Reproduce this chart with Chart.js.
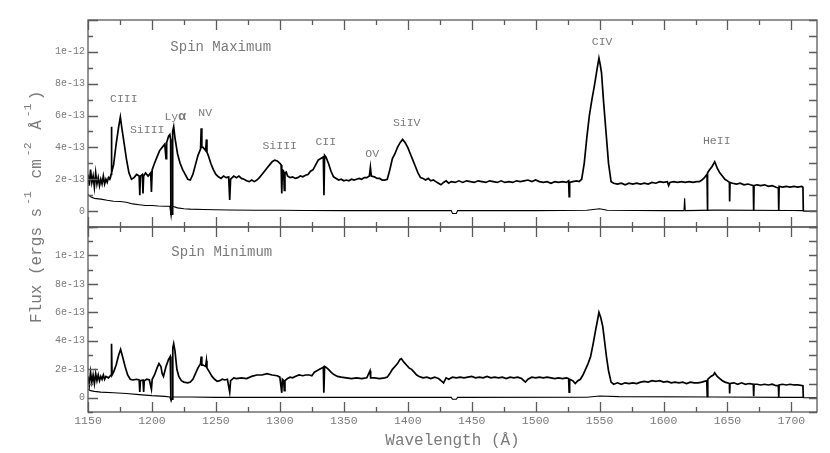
<!DOCTYPE html>
<html>
<head>
<meta charset="utf-8">
<script src="https://cdn.jsdelivr.net/npm/chart.js@4.4.1/dist/chart.umd.min.js"></script>
<style>
  body { margin: 0; background: #fff; }
  #wrap { position: relative; width: 830px; height: 453px; overflow: hidden; }
  #wrap canvas { position: absolute; left: 0; top: 0; }
</style>
</head>
<body>
<div id="wrap">
  <canvas id="spinMax" width="830" height="453"></canvas>
  <canvas id="spinMin" width="830" height="453"></canvas>
</div>
<script>
// Flux in units of 1e-13 ergs s^-1 cm^-2 A^-1: [wavelength, flux]
const spinMaxFlux = [
  [1150,2.3],[1151,1.6],[1152,2.6],[1153,1.8],[1154,2.2],[1155,1.5],[1156,2.4],[1157,1.7],
  [1158,2.1],[1159,1.6],[1160,2.0],[1161,1.7],[1162,2.2],[1163,1.7],[1164,2.0],[1165,1.8],
  [1166,2.1],[1167,2.0],[1168,2.3],[1168.3,5.3],[1168.6,2.4],[1170,2.9],[1172,4.2],[1174,5.3],
  [1175.3,5.9],[1176.5,5.2],[1178,4.4],[1180,3.3],[1182,2.4],[1184,2.0],[1186,2.1],[1188,2.3],
  [1190,2.2],[1190.5,1.0],[1191,2.2],[1192.5,2.3],[1193,1.1],[1193.5,2.2],[1195,2.4],[1197,2.2],
  [1199,2.4],[1199.6,1.2],[1200.2,2.6],[1202,3.0],[1204,3.4],[1206,3.8],[1208,4.0],[1210,4.2],
  [1211,3.3],[1211.5,4.3],[1213,4.7],[1214,4.8],[1214.6,4.5],[1214.8,-0.2],[1215.8,-0.2],[1216.2,5.0],
  [1217,5.3],[1218,4.6],[1220,3.6],[1222,3.0],[1224,2.6],[1226,2.3],[1228,2.0],[1230,1.95],
  [1232,2.3],[1234,2.9],[1236,3.5],[1238,3.9],[1238.5,5.2],[1239,4.0],[1240,4.0],[1242,3.8],
  [1242.6,4.5],[1243,3.7],[1244,3.5],[1246,3.0],[1248,2.6],[1250,2.3],[1252,2.15],[1254,2.05],
  [1256,2.2],[1258,2.1],[1260,2.15],[1260.8,0.7],[1261.5,2.0],[1264,2.2],[1266,2.1],[1268,2.2],
  [1270,2.05],[1272,2.0],[1274,1.9],[1276,1.85],[1278,1.95],[1280,1.85],[1282,1.95],[1284,2.1],
  [1286,2.3],[1288,2.5],[1290,2.7],[1292,2.9],[1294,3.1],[1296,3.2],[1298,3.15],[1300,3.0],
  [1301,2.9],[1301.5,1.1],[1302,2.6],[1303,2.5],[1303.5,1.3],[1304,2.4],[1305,2.45],[1306,2.2],
  [1308,2.1],[1310,2.15],[1312,2.05],[1314,2.1],[1316,2.2],[1318,2.15],[1320,2.25],[1322,2.3],
  [1324,2.5],[1326,2.6],[1328,2.9],[1330,3.2],[1332,3.3],[1334,3.4],[1334.5,1.0],[1335,3.5],
  [1336,3.4],[1338,3.0],[1340,2.5],[1342,2.15],[1344,2.05],[1346,1.95],[1348,2.0],[1350,1.9],
  [1352,1.95],[1354,1.9],[1356,2.0],[1358,1.95],[1360,2.0],[1362,2.05],[1364,2.0],[1366,2.1],
  [1368,2.1],[1370,2.2],[1370.8,2.75],[1371.5,2.2],[1374,2.15],[1376,2.05],[1378,2.05],[1380,1.95],
  [1382,1.95],[1384,2.0],[1386,2.6],[1388,3.3],[1390,3.6],[1392,4.0],[1394,4.3],[1396,4.5],
  [1398,4.3],[1400,4.0],[1402,3.6],[1404,3.2],[1406,2.8],[1408,2.4],[1410,2.1],[1412,2.05],
  [1414,1.95],[1416,2.05],[1418,1.9],[1420,1.95],[1422,1.85],[1424,1.75],[1426,1.65],[1428,1.8],
  [1430,1.9],[1432,1.75],[1434,1.85],[1437,1.8],[1440,1.9],[1443,1.8],[1446,1.9],[1449,1.85],
  [1452,1.8],[1455,1.9],[1458,1.85],[1461,1.8],[1464,1.9],[1467,1.85],[1470,1.8],[1473,1.9],
  [1476,1.8],[1479,1.85],[1482,1.8],[1485,1.9],[1488,1.85],[1491,1.9],[1494,1.95],[1497,1.85],
  [1500,1.95],[1503,1.85],[1506,1.8],[1509,1.85],[1512,1.75],[1515,1.85],[1518,1.8],[1521,1.85],
  [1524,1.8],[1525.8,1.9],[1526.2,0.9],[1526.6,1.8],[1529,1.85],[1532,1.9],[1534,1.85],[1536,2.0],
  [1538,3.0],[1540,4.6],[1542,6.0],[1544,7.0],[1546,7.9],[1548,8.9],[1549.5,9.6],[1550.5,9.2],
  [1551.5,8.7],[1553,7.0],[1555,5.0],[1557,3.0],[1559,1.85],[1561,1.75],[1564,1.7],[1567,1.75],
  [1570,1.65],[1573,1.75],[1576,1.7],[1579,1.75],[1582,1.7],[1585,1.75],[1588,1.7],[1591,1.8],
  [1594,1.75],[1597,1.85],[1600,1.8],[1603,1.85],[1604,1.6],[1605,1.8],[1608,1.85],[1611,1.8],
  [1614,1.85],[1617,1.8],[1620,1.85],[1623,1.8],[1626,1.85],[1628,1.85],[1630,1.95],[1632,2.1],
  [1634,2.3],[1634.3,0.0],[1634.6,2.4],[1636,2.6],[1638,2.8],[1640,3.1],[1642,2.7],[1644,2.4],
  [1646,2.2],[1648,2.0],[1650,1.9],[1651.5,1.8],[1651.7,0.6],[1652,1.8],[1654,1.75],[1657,1.7],
  [1660,1.75],[1663,1.65],[1666,1.7],[1668,1.65],[1670.2,1.6],[1670.5,0.0],[1670.8,1.6],[1673,1.65],
  [1676,1.6],[1679,1.65],[1682,1.55],[1685,1.6],[1688,1.5],[1689.8,1.45],[1690.1,0.0],[1690.4,1.55],
  [1693,1.5],[1696,1.55],[1699,1.5],[1702,1.55],[1705,1.5],[1708,1.55],[1709,1.5],[1709.3,0.0]
];

const spinMaxError = [
  [1150,1.05],[1152,0.9],[1155,0.8],[1160,0.75],[1165,0.68],[1170,0.62],[1175,0.6],[1180,0.55],
  [1185,0.45],[1190,0.4],[1195,0.35],[1200,0.35],[1205,0.32],[1210,0.3],[1214,0.3],[1215,-0.35],
  [1216,0.3],[1220,0.2],[1225,0.15],[1230,0.12],[1240,0.1],[1250,0.08],[1260,0.07],[1280,0.05],
  [1300,0.05],[1320,0.04],[1350,0.03],[1400,0.03],[1434,0.03],[1435,-0.15],[1438,-0.15],[1439,0.03],
  [1500,0.03],[1540,0.05],[1550,0.15],[1556,0.05],[1600,0.03],[1616,0.03],[1616.5,0.8],[1617,0.03],
  [1640,0.06],[1700,0.04],[1709,0.03],[1709.5,0.0],[1720,0.0]
];

const spinMinFlux = [
  [1150,1.5],[1151,0.9],[1152,1.8],[1153,1.1],[1154,1.6],[1155,1.0],[1156,1.7],[1157,1.2],
  [1158,1.6],[1159,1.2],[1160,1.5],[1161,1.3],[1162,1.6],[1163,1.3],[1164,1.5],[1166,1.4],
  [1168,1.6],[1168.4,3.8],[1168.8,1.6],[1170,1.8],[1172,2.3],[1174,3.0],[1175.5,3.4],[1177,2.9],
  [1179,2.2],[1181,1.6],[1183,1.3],[1185,1.25],[1188,1.3],[1190,1.25],[1190.5,0.4],[1191,1.2],
  [1193,1.25],[1193.5,0.4],[1194,1.2],[1196,1.3],[1198,1.25],[1199.6,0.6],[1200.2,1.3],[1202,1.6],
  [1204,2.1],[1205.5,2.4],[1207,2.2],[1208,1.7],[1209,1.5],[1211,2.2],[1213,2.7],[1214.3,2.9],
  [1214.8,-0.1],[1215.8,-0.1],[1216.3,3.5],[1217,3.8],[1218,3.3],[1219.5,2.0],[1221,1.5],[1223,1.2],
  [1225,1.1],[1228,1.05],[1230,1.1],[1232,1.3],[1234,1.7],[1236,2.1],[1238,2.4],[1238.5,2.9],
  [1239,2.3],[1240,2.3],[1242,2.2],[1242.6,2.6],[1243,2.1],[1245,1.8],[1247,1.5],[1249,1.3],
  [1251,1.15],[1253,1.2],[1255,1.3],[1257,1.25],[1259,1.3],[1260.8,0.4],[1261.5,1.2],[1264,1.4],
  [1266,1.35],[1270,1.4],[1274,1.35],[1278,1.5],[1282,1.6],[1286,1.6],[1290,1.7],[1294,1.6],
  [1298,1.55],[1300,1.45],[1301.5,0.35],[1302,1.3],[1303,1.2],[1303.5,0.5],[1304,1.2],[1306,1.35],
  [1308,1.45],[1310,1.4],[1312,1.5],[1315,1.6],[1318,1.55],[1320,1.6],[1323,1.6],[1325,1.55],
  [1327,1.8],[1329,1.9],[1331,2.0],[1333,2.1],[1334,2.15],[1334.4,0.35],[1335,2.2],[1336,2.15],
  [1338,2.0],[1340,1.8],[1342,1.65],[1345,1.5],[1348,1.45],[1352,1.4],[1356,1.35],[1360,1.4],
  [1364,1.35],[1368,1.4],[1370.5,1.9],[1371,1.4],[1374,1.4],[1378,1.35],[1382,1.4],[1384,1.45],
  [1386,1.7],[1388,2.0],[1390,2.2],[1392,2.4],[1394,2.7],[1395,2.75],[1397,2.5],[1399,2.3],
  [1401,2.1],[1403,2.0],[1405,1.8],[1407,1.6],[1409,1.5],[1412,1.4],[1415,1.45],[1418,1.35],
  [1421,1.45],[1424,1.35],[1426,1.2],[1428,1.05],[1430,1.4],[1432,1.3],[1435,1.45],[1438,1.4],
  [1441,1.45],[1444,1.4],[1447,1.45],[1450,1.5],[1453,1.4],[1456,1.45],[1459,1.4],[1462,1.5],
  [1465,1.4],[1468,1.45],[1471,1.4],[1474,1.45],[1477,1.35],[1480,1.45],[1483,1.4],[1486,1.45],
  [1489,1.35],[1492,1.1],[1494,1.3],[1497,1.45],[1500,1.4],[1503,1.45],[1506,1.4],[1509,1.45],
  [1512,1.4],[1515,1.35],[1518,1.4],[1521,1.35],[1524,1.4],[1525.8,1.35],[1526.2,0.4],[1526.6,1.3],
  [1529,1.2],[1531,1.0],[1533,1.2],[1535,1.3],[1537,1.6],[1539,2.0],[1541,2.4],[1543,2.9],
  [1545,3.8],[1547,4.8],[1548.5,5.5],[1549.5,6.0],[1551,5.6],[1552.5,5.0],[1554,3.9],[1555.5,2.8],
  [1557,1.9],[1559,1.1],[1561,0.95],[1564,1.05],[1567,0.95],[1570,1.05],[1573,1.0],[1576,1.05],
  [1579,1.0],[1582,1.1],[1585,1.15],[1588,1.1],[1591,1.2],[1594,1.15],[1597,1.2],[1600,1.1],
  [1603,1.15],[1606,1.05],[1609,1.1],[1612,1.05],[1615,1.1],[1618,1.0],[1621,1.1],[1624,1.05],
  [1627,1.05],[1630,1.1],[1633.8,1.2],[1634.2,0.1],[1634.6,1.3],[1637,1.5],[1639,1.6],[1640,1.75],
  [1642,1.5],[1644,1.35],[1646,1.2],[1648,1.1],[1650,1.05],[1651.5,1.0],[1651.7,0.3],[1652,1.0],
  [1655,1.05],[1658,0.95],[1661,1.05],[1664,0.95],[1667,1.0],[1670.2,0.95],[1670.5,0.1],[1670.8,0.95],
  [1673,0.95],[1676,0.9],[1679,0.95],[1682,0.9],[1685,0.95],[1688,0.85],[1689.8,0.85],[1690.1,0.05],
  [1690.4,0.9],[1693,0.95],[1696,0.9],[1699,0.95],[1702,0.9],[1705,0.9],[1709,0.85],[1709.3,0.0]
];

const spinMinError = [
  [1150,0.6],[1152,0.5],[1155,0.45],[1160,0.4],[1170,0.35],[1180,0.3],[1190,0.22],[1200,0.15],
  [1210,0.1],[1214,0.06],[1215,-0.25],[1216,0.05],[1230,0.05],[1250,0.03],[1300,0.03],[1400,0.03],
  [1434,0.03],[1435,-0.1],[1438,-0.1],[1439,0.03],[1540,0.04],[1550,0.12],[1565,0.08],[1640,0.05],
  [1700,0.03],[1709,0.03],[1709.5,0.0],[1720,0.0]
];

const xTickLabels = [1150, 1200, 1250, 1300, 1350, 1400, 1450, 1500, 1550, 1600, 1650, 1700];
const yTickValues = [0, 2, 4, 6, 8, 10];
const yTickLabels = ['0', '2e-13', '4e-13', '6e-13', '8e-13', '1e-12'];

// line identifications, placed in data units (wavelength, flux)
const spinMaxLabels = [
  { text: 'CIII', x: 1178.0, y: 7.03 },
  { text: 'SiIII', x: 1196.3, y: 5.08 },
  { text: 'Ly', greek: 'α', x: 1218.2, y: 5.9 },
  { text: 'NV', x: 1241.6, y: 6.15 },
  { text: 'SiIII', x: 1299.9, y: 4.08 },
  { text: 'CII', x: 1335.9, y: 4.33 },
  { text: 'OV', x: 1372.2, y: 3.58 },
  { text: 'SiIV', x: 1399.2, y: 5.52 },
  { text: 'CIV', x: 1552.0, y: 10.6 },
  { text: 'HeII', x: 1641.6, y: 4.39 }
];

const FONT = '"Liberation Mono", "DejaVu Sans Mono", monospace';
const INK = '#7a7a7a';
const FRAME = '#5a5a5a';

function toPoints(pairs) {
  return pairs.map(p => ({ x: p[0], y: p[1] }));
}

// box with inward ticks on all four sides
const framePlugin = {
  id: 'frame',
  afterDraw(chart) {
    const { ctx, chartArea: a, scales: { x, y } } = chart;
    ctx.save();
    ctx.strokeStyle = FRAME;
    ctx.lineWidth = 1.3;
    ctx.strokeRect(a.left, a.top, a.right - a.left, a.bottom - a.top);
    ctx.beginPath();
    for (let w = 1150; w <= 1720; w += 25) {
      const px = Math.round(x.getPixelForValue(w)) + 0.5;
      const len = w % 50 === 0 ? 10 : 5;
      ctx.moveTo(px, a.bottom); ctx.lineTo(px, a.bottom - len);
      ctx.moveTo(px, a.top); ctx.lineTo(px, a.top + len);
    }
    for (let v = -1; v <= 12; v++) {
      const py = Math.round(y.getPixelForValue(v)) + 0.5;
      const len = v % 2 === 0 ? 10 : 5;
      ctx.moveTo(a.left, py); ctx.lineTo(a.left + len, py);
      ctx.moveTo(a.right, py); ctx.lineTo(a.right - 8, py);
    }
    ctx.stroke();
    ctx.restore();
  }
};

// panel title and line names
const notesPlugin = {
  id: 'notes',
  afterDatasetsDraw(chart, args, opts) {
    const { ctx, scales: { x, y } } = chart;
    ctx.save();
    ctx.fillStyle = INK;
    ctx.textAlign = 'center';
    ctx.textBaseline = 'middle';
    ctx.font = '14px ' + FONT;
    ctx.fillText(opts.title, x.getPixelForValue(opts.titleAt[0]), y.getPixelForValue(opts.titleAt[1]));
    (opts.items || []).forEach(item => {
      const px = x.getPixelForValue(item.x);
      const py = y.getPixelForValue(item.y);
      ctx.font = '11.5px ' + FONT;
      if (!item.greek) {
        ctx.fillText(item.text, px, py);
        return;
      }
      // e.g. Ly + bold alpha
      const w1 = ctx.measureText(item.text).width;
      ctx.font = 'bold 13px ' + FONT;
      const w2 = ctx.measureText(item.greek).width;
      const start = px - (w1 + w2) / 2;
      ctx.textAlign = 'left';
      ctx.fillText(item.greek, start + w1, py);
      ctx.font = '11.5px ' + FONT;
      ctx.fillText(item.text, start, py);
      ctx.textAlign = 'center';
    });
    ctx.restore();
  }
};

// axis titles, drawn across the full figure
const axisTitlesPlugin = {
  id: 'axisTitles',
  afterDraw(chart) {
    const { ctx, chartArea: a } = chart;
    ctx.save();
    ctx.fillStyle = INK;
    ctx.textBaseline = 'middle';
    ctx.textAlign = 'center';
    ctx.font = '16px ' + FONT;
    ctx.fillText('Wavelength (Å)', (a.left + a.right) / 2, 441);

    ctx.translate(37, 323);
    ctx.rotate(-Math.PI / 2);
    ctx.textAlign = 'left';
    const parts = [
      ['Flux (ergs s', false], ['-1', true], [' cm', false], ['-2', true],
      [' Å', false], ['-1', true], [')', false]
    ];
    let pos = 0;
    parts.forEach(([t, sup]) => {
      ctx.font = (sup ? '11.5px ' : '16px ') + FONT;
      if (sup) pos += 3;
      ctx.fillText(t, pos, sup ? -9 : 0);
      pos += ctx.measureText(t).width + (sup ? 3 : 0);
    });
    ctx.restore();
  }
};

function makePanel(canvasId, flux, error, padding, showX, notes, extraPlugins) {
  return new Chart(document.getElementById(canvasId), {
    type: 'line',
    data: {
      datasets: [
        { data: toPoints(flux), borderColor: '#000', borderWidth: 1.7 },
        { data: toPoints(error), borderColor: '#000', borderWidth: 1.1 }
      ]
    },
    options: {
      responsive: false,
      animation: false,
      elements: { point: { radius: 0 }, line: { tension: 0 } },
      layout: { padding: padding },
      plugins: { legend: { display: false }, tooltip: { enabled: false }, notes: notes },
      scales: {
        x: {
          type: 'linear',
          min: 1150,
          max: 1720,
          display: showX,
          grid: { display: false, drawTicks: false },
          border: { display: false },
          afterBuildTicks: s => { s.ticks = xTickLabels.map(v => ({ value: v })); },
          afterFit: s => { if (showX) s.height = 41; },
          ticks: {
            autoSkip: false,
            maxRotation: 0,
            padding: 2,
            color: INK,
            font: { family: FONT, size: 11.5 },
            callback: v => String(v)
          }
        },
        y: {
          min: -1,
          max: 12,
          grid: { display: false, drawTicks: false },
          border: { display: false },
          afterBuildTicks: s => { s.ticks = yTickValues.map(v => ({ value: v })); },
          afterFit: s => { s.width = 88; },
          ticks: {
            padding: 3,
            color: INK,
            font: { family: FONT, size: 10 },
            callback: (v, i) => yTickLabels[i]
          }
        }
      }
    },
    plugins: [framePlugin, notesPlugin].concat(extraPlugins)
  });
}

makePanel('spinMax', spinMaxFlux, spinMaxError,
  { left: 0, right: 13, top: 20, bottom: 226 }, false,
  { title: 'Spin Maximum', titleAt: [1253.8, 10.3], items: spinMaxLabels }, []);

makePanel('spinMin', spinMinFlux, spinMinError,
  { left: 0, right: 13, top: 227, bottom: 0 }, true,
  { title: 'Spin Minimum', titleAt: [1254.6, 10.2], items: [] }, [axisTitlesPlugin]);
</script>
</body>
</html>
